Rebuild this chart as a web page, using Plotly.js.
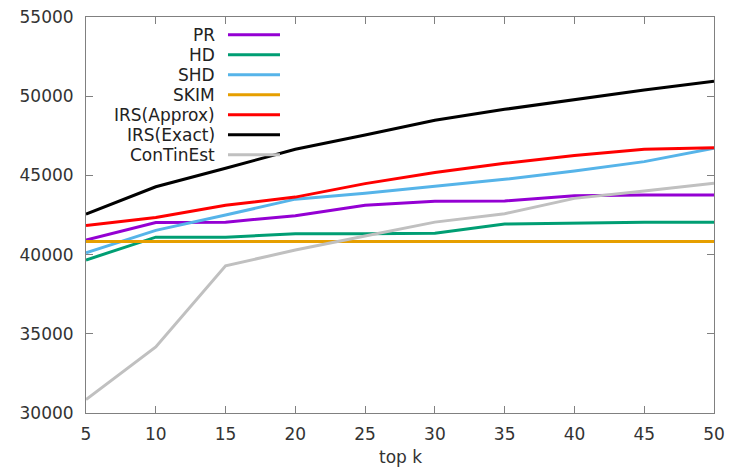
<!DOCTYPE html>
<html>
<head>
<meta charset="utf-8">
<script src="https://cdn.plot.ly/plotly-3.0.1.min.js"></script>
<style>html,body{margin:0;padding:0;background:#fff;}#chart{width:737px;height:469px;}</style>
</head>
<body>
<div id="chart"></div>
<script>
const topK = [5, 10, 15, 20, 25, 30, 35, 40, 45, 50];
const seriesNames = ["PR", "HD", "SHD", "SKIM", "IRS(Approx)", "IRS(Exact)", "ConTinEst"];
const seriesColors = ["#9400d3", "#009e73", "#56b4e9", "#e69f00", "#ff0000", "#000000", "#c0c0c0"];
const prValues = [40920, 42030, 42050, 42450, 43120, 43370, 43390, 43720, 43760, 43760];
const hdValues = [39660, 41100, 41100, 41320, 41320, 41350, 41930, 42000, 42040, 42040];
const shdValues = [40120, 41530, 42500, 43500, 43870, 44330, 44750, 45280, 45870, 46710];
const skimValues = [40830, 40830, 40830, 40830, 40830, 40830, 40830, 40830, 40830, 40830];
const irsApproxValues = [41840, 42340, 43120, 43630, 44480, 45180, 45760, 46250, 46650, 46750];
const irsExactValues = [42550, 44280, 45450, 46650, 47550, 48480, 49170, 49800, 50390, 50950];
const continestValues = [30850, 34170, 39290, 40290, 41180, 42050, 42580, 43550, 44020, 44500];
const xTicks = [5, 10, 15, 20, 25, 30, 35, 40, 45, 50];
const yTicks = [30000, 35000, 40000, 45000, 50000, 55000];
const xTitle = "top k";

const allValues = [prValues, hdValues, shdValues, skimValues, irsApproxValues, irsExactValues, continestValues];

const traces = allValues.map((vals, i) => ({
  x: topK, y: vals, type: 'scatter', mode: 'lines', name: seriesNames[i],
  line: {color: seriesColors[i], width: 3}, showlegend: false
}));

const FONT = 'DejaVu Sans, sans-serif';
const annotations = [];
const shapes = [];
seriesNames.forEach((n, i) => {
  const yy = 0.955 - i * 0.0505;
  annotations.push({xref: 'paper', yref: 'paper', x: 0.2086, y: yy, xanchor: 'right', yanchor: 'middle',
    text: n, showarrow: false, font: {family: FONT, size: 17, color: '#222'}});
  shapes.push({type: 'line', xref: 'paper', yref: 'paper', x0: 0.2261, x1: 0.3089, y0: yy, y1: yy,
    line: {color: seriesColors[i], width: 3}});
});
annotations.push({xref: 'paper', yref: 'paper', x: 0.5, y: -0.111, xanchor: 'center', yanchor: 'middle',
  text: xTitle, showarrow: false, font: {family: FONT, size: 17, color: '#333'}});

const axisCommon = {
  showgrid: false, zeroline: false, showline: true, linecolor: '#808080', linewidth: 1,
  mirror: 'ticks', ticks: 'inside', ticklen: 7, tickcolor: '#808080', tickwidth: 1,
  tickfont: {family: FONT, size: 17, color: '#333'}
};

const layout = {
  width: 737, height: 469,
  margin: {l: 86, r: 23, t: 17, b: 56},
  paper_bgcolor: '#fff', plot_bgcolor: '#fff',
  xaxis: Object.assign({}, axisCommon, {range: [5, 50], tickvals: xTicks, ticktext: xTicks.map(String),
    ticklabelstandoff: 6}),
  yaxis: Object.assign({}, axisCommon, {range: [30000, 55000], tickvals: yTicks, ticktext: yTicks.map(String),
    ticklabelstandoff: 8}),
  annotations: annotations,
  shapes: shapes,
  showlegend: false
};

Plotly.newPlot('chart', traces, layout, {displayModeBar: false, staticPlot: true});
</script>
</body>
</html>
